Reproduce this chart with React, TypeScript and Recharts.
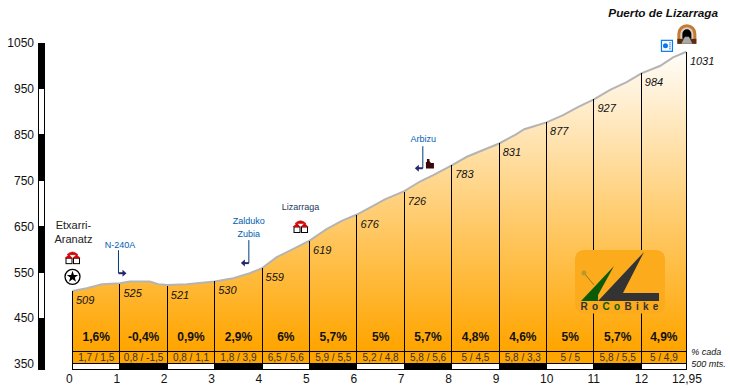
import { ComposedChart, Area, XAxis, YAxis, ReferenceArea, ReferenceLine, ReferenceDot } from "recharts";

const profileKm = [0, 0.3, 0.62, 1, 1.21, 1.63, 1.81, 2, 2.41, 3, 3.39, 3.74, 4, 4.31, 4.66, 5, 5.36, 5.68, 6, 6.38, 6.59, 7, 7.33, 7.61, 8, 8.32, 8.6, 9, 9.34, 9.53, 9.72, 10, 10.35, 10.67, 11, 11.34, 11.69, 12, 12.39, 12.67, 12.95];
const profileAlt = [509, 515, 524, 526, 530, 530, 524, 522, 524, 530, 537, 548, 559, 583, 601, 619, 644, 662, 676, 697, 709, 727, 748, 762, 783, 802, 814, 831, 850, 862, 868, 877, 893, 911, 927, 948, 965, 984, 1000, 1019, 1031];

const markKm = [0, 1, 2, 3, 4, 5, 6, 7, 8, 9, 10, 11, 12, 12.95];
const markAlt = [509, 525, 521, 530, 559, 619, 676, 726, 783, 831, 877, 927, 984, 1031];

const grades = ["1,6%", "-0,4%", "0,9%", "2,9%", "6%", "5,7%", "5%", "5,7%", "4,8%", "4,6%", "5%", "5,7%", "4,9%"];
const halfGrades = ["1,7 / 1,5", "0,8 / -1,5", "0,8 / 1,1", "1,8 / 3,9", "6,5 / 5,6", "5,9 / 5,5", "5,2 / 4,8", "5,8 / 5,6", "5 / 4,5", "5,8 / 3,3", "5 / 5", "5,8 / 5,5", "5 / 4,9"];

const altTicks = [350, 450, 550, 650, 750, 850, 950, 1050];
const kmTicks = [0, 1, 2, 3, 4, 5, 6, 7, 8, 9, 10, 11, 12, 12.95];

const data = profileKm.map((km, i) => ({ km, alt: profileAlt[i] }));
const FONT = "'Liberation Sans', Arial, sans-serif";
const BASE = 350;
const FLOOR = 339;
const BAR_L = -0.72;
const BAR_R = -0.59;

function Note({ cx, cy, text, size = 9, color = "#111", anchor = "middle", weight = "normal", italic = false, dx = 0, dy = 0 }: any) {
  return (
    <text x={cx + dx} y={cy + dy} fontFamily={FONT} fontSize={size} fill={color} textAnchor={anchor} fontWeight={weight} fontStyle={italic ? "italic" : "normal"} dominantBaseline="central">
      {text}
    </text>
  );
}

function KmTick({ x, y, payload }: any) {
  const last = payload.value === 12.95;
  return (
    <text x={x - (last ? 14.5 : 6.5)} y={y} dy="0.8em" fontFamily={FONT} fontSize={12} fill="#111" textAnchor="start">
      {String(payload.value).replace(".", ",")}
    </text>
  );
}

function Houses({ cx, cy }: any) {
  return (
    <g transform={`translate(${cx},${cy})`}>
      <path d="M-5.5,-2.5 Q0,-8 5.5,-2.5 Z" fill="#e00000" stroke="#a00000" strokeWidth={0.5} />
      <rect x={-6.5} y={1} width={6} height={5.5} fill="#fff" stroke="#000" />
      <rect x={1} y={1} width={6} height={5.5} fill="#fff" stroke="#000" />
      <path d="M-8,1 L-3.5,-3 L0,1 Z" fill="#e00000" />
      <path d="M0,1 L4,-3 L8,1 Z" fill="#e00000" />
    </g>
  );
}

function StarBadge({ cx, cy }: any) {
  return (
    <g transform={`translate(${cx},${cy})`}>
      <circle r={7.5} fill="#fff" stroke="#000" strokeWidth={1.3} />
      <polygon points="0,-6 1.4,-1.9 5.7,-1.9 2.3,0.7 3.5,4.9 0,2.4 -3.5,4.9 -2.3,0.7 -5.7,-1.9 -1.4,-1.9" fill="#000" />
    </g>
  );
}

function Pointer({ cx, cy, dir, h }: any) {
  return (
    <g transform={`translate(${cx},${cy})`}>
      <line x1={0} y1={-h} x2={0} y2={0} stroke="#003a80" strokeWidth={1} />
      <line x1={0} y1={0} x2={dir * 6} y2={0} stroke="#26266e" strokeWidth={2} />
      <polygon points={`${dir * 8},0 ${dir * 4},-3.5 ${dir * 4},3.5`} fill="#26266e" />
    </g>
  );
}

function Church({ cx, cy }: any) {
  return (
    <path transform={`translate(${cx},${cy})`} d="M-4,4.5 V-2 H-3 V-5 H-0.5 V-3 L1,-1 H4 V4.5 Z" fill="#3a0808" />
  );
}

function Tunnel({ cx, cy }: any) {
  return (
    <g transform={`translate(${cx},${cy})`}>
      <path d="M-9.5,9 V-1 A9.5,9.5 0 0 1 9.5,-1 V9 Z" fill="#c47a30" />
      <path d="M-6.5,5 V-1 A6.5,6.5 0 0 1 6.5,-1 V5 Z" fill="#d8d0c8" />
      <path d="M-4.5,4 V-1 A4.5,4.5 0 0 1 4.5,-1 V4 Z" fill="#000" />
      <rect x={-9.5} y={4} width={19} height={5} fill="#5a2c10" />
      <polygon points="-2,2 2,2 5.5,9 -5.5,9" fill="#a8a8a8" />
    </g>
  );
}

function InfoBox({ cx, cy }: any) {
  return (
    <g transform={`translate(${cx},${cy})`}>
      <rect x={-5.5} y={-5.5} width={11} height={11} fill="#fff" stroke="#0a78f0" strokeWidth={1.2} />
      <circle cx={-1.5} cy={0} r={2.5} fill="#0a78f0" />
      <path d="M2,-3 H4 M2,-1 H4 M2,1 H4 M2,3 H4" stroke="#0a78f0" strokeWidth={0.8} />
    </g>
  );
}

function Logo({ cx, cy }: any) {
  return (
    <g transform={`translate(${cx - 620},${cy - 281.5})`}>
      <rect x={575} y={250} width={90} height={63.5} rx={9} fill="#fbab1c" />
      <path d="M598,301 L644,252 L623,293 L659,293 L659,301 Z" fill="#333" />
      <path d="M581,301 L614,266 L598,295 L598,301 Z" fill="#0a5a08" />
      <line x1={583} y1={272} x2={594} y2={285} stroke="#8a7a20" strokeWidth={1} />
      <circle cx={584} cy={273} r={2.5} fill="#b89a30" />
      <text x={580.5} y={310.5} fontFamily={FONT} fontSize={10} fontWeight="bold" letterSpacing={4.3} fill="#333">
        Ro<tspan fill="#0a5a08">Co</tspan>Bike
      </text>
    </g>
  );
}

export default function App() {
  const barEdges = [FLOOR, ...altTicks.slice(1)];
  return (
    <div style={{ position: "absolute", left: 0, top: 0, width: 730, height: 390, background: "#fff" }}>
      <ComposedChart width={730} height={390} data={data} margin={{ top: 0, right: 0, left: 0, bottom: 0 }}>
        <defs>
          <linearGradient id="ramp" x1="0" y1="0" x2="0" y2="1">
            <stop offset="0%" stopColor="#fffdfa" />
            <stop offset="95%" stopColor="#ffa500" />
          </linearGradient>
        </defs>
        <XAxis
          dataKey="km"
          type="number"
          domain={[-0.77, 13.87]}
          ticks={kmTicks}
          interval={0}
          height={21}
          axisLine={false}
          tickLine={false}
          tickSize={0}
          tickMargin={4}
          tick={<KmTick />}
        />
        <YAxis
          type="number"
          width={36}
          domain={[FLOOR, 1144]}
          ticks={altTicks}
          interval={0}
          axisLine={false}
          tickLine={false}
          tickSize={0}
          tickMargin={2}
          tick={{ fontFamily: FONT, fontSize: 12, fill: "#111" }}
        />
        <Area type="linear" dataKey="alt" baseValue={BASE} stroke="#b4b4b4" strokeWidth={2} fill="url(#ramp)" fillOpacity={1} dot={false} activeDot={false} isAnimationActive={false} />

        {markKm.map((km, i) => (
          <ReferenceLine key={km} segment={[{ x: km, y: BASE }, { x: km, y: markAlt[i] }]} stroke="#000" strokeWidth={1} shapeRendering="crispEdges" />
        ))}
        <ReferenceLine segment={[{ x: 0, y: 377 }, { x: 12.95, y: 377 }]} stroke="#000" strokeWidth={1} shapeRendering="crispEdges" />
        <ReferenceLine segment={[{ x: 0, y: BASE }, { x: 12.95, y: BASE }]} stroke="#000" strokeWidth={1} shapeRendering="crispEdges" />

        {barEdges.slice(0, -1).map((low, i) => (
          <ReferenceArea key={low} x1={BAR_L} x2={BAR_R} y1={low} y2={barEdges[i + 1]} fill={i % 2 === 0 ? "#000" : "#fff"} fillOpacity={1} stroke="#000" strokeWidth={1} shapeRendering="crispEdges" />
        ))}
        {markKm.slice(0, -1).map((km, i) => (
          <ReferenceArea key={km} x1={km} x2={markKm[i + 1]} y1={FLOOR} y2={BASE} fill={i % 2 === 0 ? "#fff" : "#000"} fillOpacity={1} stroke="#000" strokeWidth={1} shapeRendering="crispEdges" />
        ))}

        {markKm.map((km, i) => (
          <ReferenceDot key={km} x={km} y={markAlt[i]} r={0} shape={(p: any) => <Note {...p} text={String(markAlt[i])} size={11} italic anchor="start" dx={3.5} dy={9} />} />
        ))}
        {grades.map((g, i) => (
          <ReferenceDot key={i} x={(markKm[i] + markKm[i + 1]) / 2} y={409} r={0} shape={(p: any) => <Note {...p} text={g} size={12} weight="bold" />} />
        ))}
        {halfGrades.map((g, i) => (
          <ReferenceDot key={i} x={(markKm[i] + markKm[i + 1]) / 2} y={365} r={0} shape={(p: any) => <Note {...p} text={g} size={10} color="#333" />} />
        ))}

        <ReferenceDot x={12.46} y={1116} r={0} shape={(p: any) => <Note {...p} text="Puerto de Lizarraga" size={11.75} weight="bold" italic />} />
        <ReferenceDot x={0.02} y={654} r={0} shape={(p: any) => <Note {...p} text="Etxarri-" size={11} color="#222" />} />
        <ReferenceDot x={0.02} y={623} r={0} shape={(p: any) => <Note {...p} text="Aranatz" size={11} color="#222" />} />
        <ReferenceDot x={1} y={610} r={0} shape={(p: any) => <Note {...p} text="N-240A" color="#0060b0" />} />
        <ReferenceDot x={3.72} y={662} r={0} shape={(p: any) => <Note {...p} text="Zalduko" color="#0060b0" />} />
        <ReferenceDot x={3.72} y={634} r={0} shape={(p: any) => <Note {...p} text="Zubia" color="#0060b0" />} />
        <ReferenceDot x={4.81} y={692} r={0} shape={(p: any) => <Note {...p} text="Lizarraga" color="#1a3a5a" />} />
        <ReferenceDot x={7.4} y={841} r={0} shape={(p: any) => <Note {...p} text="Arbizu" color="#0060b0" />} />
        <ReferenceDot x={13.05} y={376} r={0} shape={(p: any) => <Note {...p} text="% cada" italic anchor="start" />} />
        <ReferenceDot x={13.05} y={350} r={0} shape={(p: any) => <Note {...p} text="500 mts." italic anchor="start" />} />

        <ReferenceDot x={0} y={583} r={0} shape={(p: any) => <Houses {...p} />} />
        <ReferenceDot x={0} y={540} r={0} shape={(p: any) => <StarBadge {...p} />} />
        <ReferenceDot x={4.81} y={651} r={0} shape={(p: any) => <Houses {...p} />} />
        <ReferenceDot x={0.97} y={548} r={0} shape={(p: any) => <Pointer {...p} dir={1} h={23} />} />
        <ReferenceDot x={3.72} y={570} r={0} shape={(p: any) => <Pointer {...p} dir={-1} h={23} />} />
        <ReferenceDot x={7.39} y={777} r={0} shape={(p: any) => <Pointer {...p} dir={-1} h={22} />} />
        <ReferenceDot x={7.54} y={786} r={0} shape={(p: any) => <Church {...p} />} />
        <ReferenceDot x={12.96} y={1068} r={0} shape={(p: any) => <Tunnel {...p} />} />
        <ReferenceDot x={12.54} y={1044} r={0} shape={(p: any) => <InfoBox {...p} />} />
        <ReferenceDot x={11.55} y={530} r={0} shape={(p: any) => <Logo {...p} />} />
      </ComposedChart>
    </div>
  );
}
